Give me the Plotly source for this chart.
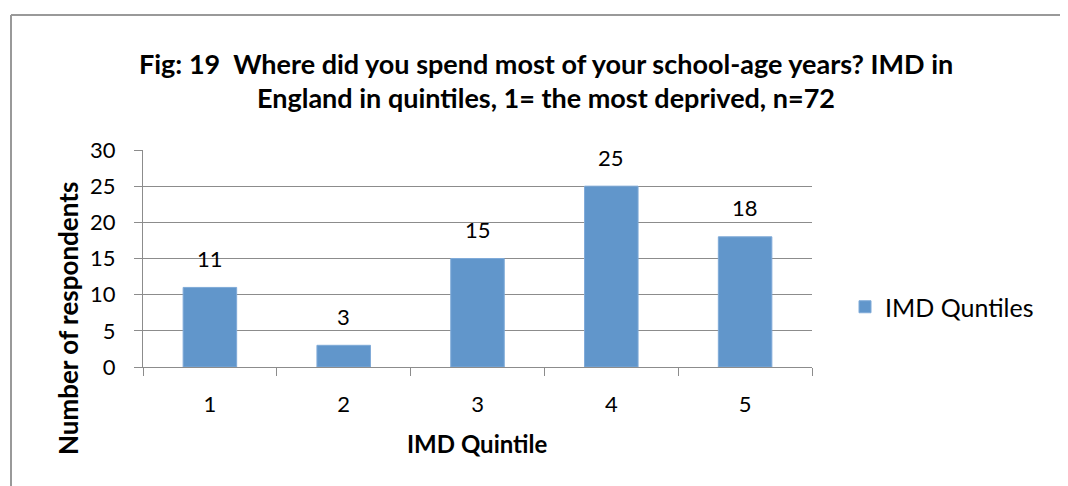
import plotly.graph_objects as go

categories = ["1", "2", "3", "4", "5"]
values = [11, 3, 15, 25, 18]
series_name = "IMD Quntiles"
title_line1 = "Fig: 19\u00a0 Where did you spend most of your school-age years? IMD in"
title_line2 = "England in quintiles, 1= the most deprived, n=72"
y_title = "Number of respondents"
x_title = "IMD Quintile"

# the page body has an 8px margin, so the figure is shrunk and shifted accordingly
OFF = 8
W, H = 1068 - OFF, 486 - OFF
L, R, T, B = 143, 812, 150, 367  # plot area in window pixels
FONT = "Lato"
GRID = "#8c8c8c"
BORDER = "#999999"


def px_x(px):
    return (px - L) / (R - L)


def px_y(py):
    return (B - py) / (B - T)


fig = go.Figure()
fig.add_trace(go.Bar(
    x=categories, y=values, name=series_name,
    marker=dict(color="#6196CB", line=dict(color="#7FAAD8", width=1)),
    showlegend=True,
))

annotations = []
for i, v in enumerate(values):
    annotations.append(dict(x=i, y=v, xref="x", yref="y", text=str(v), showarrow=False,
                            yanchor="middle", yshift=29,
                            font=dict(family=FONT, size=22, color="#000")))
annotations.append(dict(x=px_x(546), y=px_y(64), xref="paper", yref="paper", text="<b>" + title_line1 + "</b>",
                        showarrow=False, xanchor="center", yanchor="middle",
                        font=dict(family=FONT, size=27, color="#000")))
annotations.append(dict(x=px_x(546), y=px_y(98), xref="paper", yref="paper", text="<b>" + title_line2 + "</b>",
                        showarrow=False, xanchor="center", yanchor="middle",
                        font=dict(family=FONT, size=27, color="#000")))
annotations.append(dict(x=px_x(68), y=px_y(319), xref="paper", yref="paper", text="<b>" + y_title + "</b>",
                        showarrow=False, textangle=-90, xanchor="center", yanchor="middle",
                        font=dict(family=FONT, size=26, color="#000")))
annotations.append(dict(x=px_x(477), y=px_y(443), xref="paper", yref="paper", text="<b>" + x_title + "</b>",
                        showarrow=False, xanchor="center", yanchor="middle",
                        font=dict(family=FONT, size=24, color="#000")))

fig.update_layout(
    width=W, height=H,
    margin=dict(l=L - OFF, r=1068 - R, t=T - OFF, b=486 - B, pad=0),
    paper_bgcolor="white", plot_bgcolor="white",
    bargap=0.6,
    annotations=annotations,
    shapes=[
        dict(type="line", xref="paper", yref="paper",
             x0=px_x(11), x1=px_x(1120), y0=px_y(15), y1=px_y(15),
             line=dict(color=BORDER, width=2)),
        dict(type="line", xref="paper", yref="paper",
             x0=px_x(11), x1=px_x(11), y0=px_y(15), y1=px_y(520),
             line=dict(color=BORDER, width=2)),
    ],
    legend=dict(x=px_x(845), y=px_y(307), xanchor="left", yanchor="middle",
                font=dict(family=FONT, size=25, color="#000"), bgcolor="rgba(0,0,0,0)"),
    xaxis=dict(type="category", range=[-0.5, 4.5], showline=True, linecolor=GRID, linewidth=1,
               ticks="outside", ticklen=8, tickcolor=GRID, tickson="boundaries",
               tickfont=dict(family=FONT, size=22, color="#000"), ticklabelstandoff=18,
               showgrid=False),
    yaxis=dict(range=[0, 30], dtick=5, showline=True, linecolor=GRID, linewidth=1,
               ticks="outside", ticklen=8, tickcolor=GRID,
               showgrid=True, gridcolor=GRID, gridwidth=1, zeroline=False,
               tickfont=dict(family=FONT, size=22, color="#000"), ticklabelstandoff=14),
)

fig.write_html("out.html")
